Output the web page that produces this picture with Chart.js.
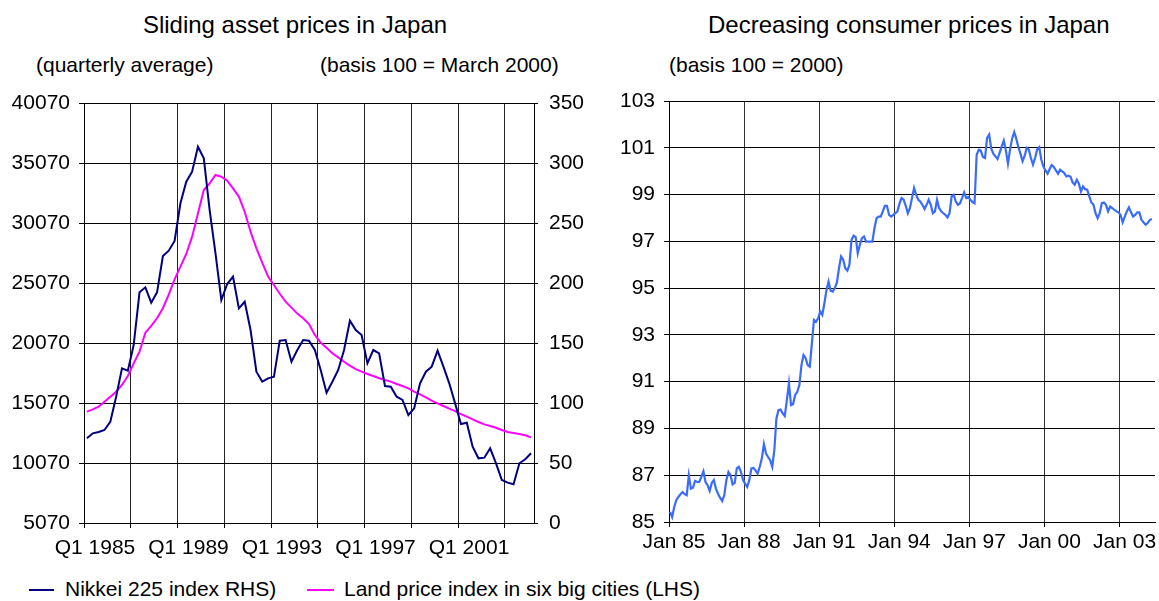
<!DOCTYPE html>
<html>
<head>
<meta charset="utf-8">
<title>Japan prices</title>
<script src="https://cdn.jsdelivr.net/npm/chart.js@4.4.1/dist/chart.umd.min.js"></script>
<style>
  body { margin: 0; background: #fff; }
  #page { position: relative; width: 1159px; height: 601px; overflow: hidden;
          font-family: "Liberation Sans", Arial, sans-serif; color: #000; }
  .txt { position: absolute; white-space: nowrap; }
  .title { font-size: 24px; line-height: 24px; text-align: center; }
  .sub, .leg { font-size: 21px; line-height: 21px; }
  .swatch { position: absolute; height: 2px; }
  canvas { position: absolute; top: 0; }
</style>
</head>
<body>
<div id="page">
  <div class="txt title" style="left:95px; top:13px; width:400px;">Sliding asset prices in Japan</div>
  <div class="txt title" style="left:708px; top:13px; width:400px;">Decreasing consumer prices in Japan</div>
  <div class="txt sub" style="left:36px; top:54px;">(quarterly average)</div>
  <div class="txt sub" style="left:320px; top:54px;">(basis 100 = March 2000)</div>
  <div class="txt sub" style="left:669px; top:54px;">(basis 100 = 2000)</div>

  <canvas id="assets" width="600" height="565" style="left:0; width:600px; height:565px;"></canvas>
  <canvas id="cpi" width="559" height="564" style="left:600px; width:559px; height:564px;"></canvas>

  <div class="swatch" style="left:29px; top:589px; width:25px; background:#000080;"></div>
  <div class="txt leg" style="left:65px; top:578px;">Nikkei 225 index RHS)</div>
  <div class="swatch" style="left:307px; top:589px; width:27px; background:#ff00ff;"></div>
  <div class="txt leg" style="left:344px; top:578px;">Land price index in six big cities (LHS)</div>
</div>

<script>
// tick labels
const quarterTickLabels = ['Q1 1985', 'Q1 1989', 'Q1 1993', 'Q1 1997', 'Q1 2001'];
const monthTickLabels = ['Jan 85', 'Jan 88', 'Jan 91', 'Jan 94', 'Jan 97', 'Jan 00', 'Jan 03'];
const nikkeiTicks = [5070, 10070, 15070, 20070, 25070, 30070, 35070, 40070];
const landTicks = [0, 50, 100, 150, 200, 250, 300, 350];
const cpiTicks = [85, 87, 89, 91, 93, 95, 97, 99, 101, 103];

// Nikkei 225, quarterly average, Q1 1985 .. Q1 2004
const nikkei = [
  12130, 12545, 12653, 12820, 13510, 15595, 17960, 17765, 19900, 24290,
  24710, 23430, 24290, 27320, 27760, 28570, 31710, 33510, 34345, 36430,
  35460, 31150, 27545, 23650, 24985, 25595, 22960, 23510, 21150, 17680,
  16845, 17125, 17265, 20265, 20320, 18515, 19485, 20320, 20265, 19485,
  17820, 15930, 16845, 17820, 19485, 21930, 21150, 20735, 18375, 19485,
  19210, 16485, 16430, 15595, 15320, 14070, 14625, 16710, 17680, 18095,
  19430, 18095, 16710, 15040, 13320, 13430, 11430, 10460, 10515, 11295,
  10045, 8655, 8430, 8295, 10045, 10380, 10880
];

// land price index in six big cities, same quarters
const landPrice = [
  92.8, 94.7, 96.9, 101.1, 105.3, 109.4, 115.0, 122.5, 133.0, 142.8,
  158.6, 164.2, 170.6, 179.0, 190.3, 203.0, 213.6, 224.2, 238.6, 258.0,
  277.5, 283.0, 290.0, 288.6, 285.3, 278.9, 272.0, 259.4, 242.8, 228.9,
  217.0, 205.3, 198.3, 191.0, 184.4, 179.5, 174.5, 170.6, 165.8, 156.7,
  150.3, 146.1, 141.4, 138.0, 134.4, 131.1, 128.3, 126.1, 124.2, 122.5,
  120.6, 119.2, 117.8, 115.8, 114.2, 112.2, 109.4, 107.2, 104.7, 101.9,
  99.7, 97.5, 95.3, 93.3, 90.8, 88.6, 86.4, 84.2, 82.2, 80.8,
  79.4, 77.5, 75.8, 75.0, 74.2, 73.1, 71.4
];

// consumer price index, monthly, Jan 1985 .. Apr 2004
const cpi = [
  85.43, 85.21, 85.64, 85.93, 86.07, 86.19, 86.28, 86.19, 86.14, 87.00,
  86.43, 86.47, 86.76, 86.71, 86.71, 86.93, 87.17, 86.71, 86.57, 86.33,
  86.67, 86.79, 86.43, 86.21, 86.04, 85.90, 86.14, 86.79, 87.14, 87.00,
  86.61, 86.67, 87.29, 87.36, 87.14, 86.79, 86.64, 86.50, 86.79, 87.29,
  87.31, 87.21, 87.07, 87.36, 87.71, 88.33, 87.93, 87.78, 87.64, 87.36,
  88.07, 89.43, 89.78, 89.81, 89.64, 89.53, 90.21, 90.93, 90.00, 90.04,
  90.43, 90.57, 90.85, 91.71, 92.14, 92.00, 91.71, 91.64, 92.64, 93.64,
  93.57, 93.71, 94.00, 93.85, 94.35, 94.92, 95.28, 94.89, 94.85, 95.00,
  95.24, 95.85, 96.35, 96.21, 95.85, 95.75, 95.99, 97.06, 97.24, 97.18,
  96.49, 96.85, 97.14, 97.21, 96.99, 96.99, 96.99, 96.99, 97.56, 97.99,
  98.06, 98.06, 98.28, 98.52, 98.52, 98.13, 98.06, 98.13, 98.20, 98.28,
  98.61, 98.85, 98.78, 98.52, 98.20, 98.42, 98.85, 99.28, 98.99, 98.78,
  98.70, 98.56, 98.38, 98.56, 98.78, 98.56, 98.20, 98.28, 98.78, 98.42,
  98.28, 98.20, 98.13, 98.02, 98.20, 98.92, 98.99, 98.70, 98.56, 98.63,
  98.85, 99.09, 98.85, 98.89, 98.78, 98.68, 98.63, 100.70, 100.92, 100.88,
  100.61, 100.56, 101.42, 101.56, 100.96, 100.75, 100.63, 100.52, 100.78, 101.06,
  101.31, 100.89, 100.32, 100.92, 101.39, 101.67, 101.39, 101.02, 100.75, 100.42,
  100.65, 100.99, 100.92, 100.56, 100.28, 100.56, 100.92, 101.02, 100.49, 100.20,
  100.03, 99.89, 100.09, 100.26, 100.18, 100.03, 99.89, 100.06, 99.99, 99.92,
  99.78, 99.81, 99.76, 99.52, 99.42, 99.63, 99.47, 99.13, 99.35, 99.23,
  99.21, 98.92, 98.66, 98.56, 98.20, 97.99, 98.20, 98.63, 98.66, 98.56,
  98.28, 98.49, 98.42, 98.35, 98.28, 98.24, 98.13, 97.81, 98.06, 98.28,
  98.45, 98.24, 98.06, 98.13, 98.24, 98.24, 97.92, 97.81, 97.71, 97.78,
  97.92, 97.95
];

const fontFamily = '"Liberation Sans", Arial, sans-serif';
const tickFont = { family: fontFamily, size: 21 };

// category axes: gridlines sit between categories, every 8 quarters / 36 months
const quarterGrid = [];
for (let i = 0; i <= 72; i += 8) quarterGrid.push(i - 0.5);
const monthGrid = [];
for (let i = 0; i <= 216; i += 36) monthGrid.push(i - 0.5);

function fixTicks(values) {
  return scale => { scale.ticks = values.map(v => ({ value: v })); };
}
function toPoints(arr) {
  return arr.map((v, i) => ({ x: i, y: v }));
}
// plain numbers, no thousands separator
const plain = v => String(v);

const common = {
  responsive: false,
  animation: false,
  events: [],
  plugins: { legend: { display: false }, tooltip: { enabled: false } },
  elements: { point: { radius: 0 }, line: { tension: 0 } }
};

new Chart(document.getElementById('assets'), {
  type: 'line',
  data: {
    datasets: [
      { data: toPoints(nikkei), yAxisID: 'y', borderColor: '#000080', borderWidth: 2 },
      { data: toPoints(landPrice), yAxisID: 'y1', borderColor: '#ff00ff', borderWidth: 2 }
    ]
  },
  options: {
    ...common,
    layout: { padding: { top: 103, left: 0, right: 0, bottom: 0 } },
    scales: {
      x: {
        type: 'linear', min: -0.5, max: nikkei.length - 0.5,
        afterBuildTicks: fixTicks(quarterGrid),
        afterFit: s => { s.height = 42; },
        grid: { color: '#222', tickLength: 5, tickColor: '#000' },
        border: { color: '#000' },
        ticks: {
          autoSkip: false, maxRotation: 0, padding: 8, labelOffset: 11,
          color: '#000', font: tickFont,
          callback: v => ((v + 0.5) % 16 === 0 ? quarterTickLabels[(v + 0.5) / 16] : '')
        }
      },
      y: {
        position: 'left', min: 5070, max: 40070,
        afterBuildTicks: fixTicks(nikkeiTicks),
        afterFit: s => { s.width = 84; },
        grid: { color: '#000', tickLength: 5, tickColor: '#000' },
        border: { color: '#000' },
        ticks: { padding: 9, color: '#000', font: tickFont, callback: plain }
      },
      y1: {
        position: 'right', min: 0, max: 350,
        afterBuildTicks: fixTicks(landTicks),
        afterFit: s => { s.width = 66; },
        grid: { drawOnChartArea: false, tickLength: 4, tickColor: '#000' },
        border: { color: '#000' },
        ticks: { padding: 11, color: '#000', font: tickFont, callback: plain }
      }
    }
  }
});

new Chart(document.getElementById('cpi'), {
  type: 'line',
  data: {
    datasets: [
      { data: toPoints(cpi), borderColor: '#3a6bff', borderWidth: 2.2 }
    ]
  },
  options: {
    ...common,
    layout: { padding: { top: 101, left: 0, right: 4, bottom: 0 } },
    scales: {
      x: {
        type: 'linear', min: -0.5, max: 232.5,
        afterBuildTicks: fixTicks(monthGrid),
        afterFit: s => { s.height = 42; },
        grid: { color: '#333', tickLength: 5, tickColor: '#000' },
        border: { color: '#000' },
        ticks: {
          autoSkip: false, maxRotation: 0, padding: 3, labelOffset: 5,
          color: '#000', font: tickFont,
          callback: v => monthTickLabels[(v + 0.5) / 36]
        }
      },
      y: {
        min: 85, max: 103,
        afterBuildTicks: fixTicks(cpiTicks),
        afterFit: s => { s.width = 69; },
        grid: { color: '#000', tickLength: 5, tickColor: '#000' },
        border: { color: '#000' },
        ticks: { padding: 9, color: '#000', font: tickFont, callback: plain }
      }
    }
  }
});
</script>
</body>
</html>
